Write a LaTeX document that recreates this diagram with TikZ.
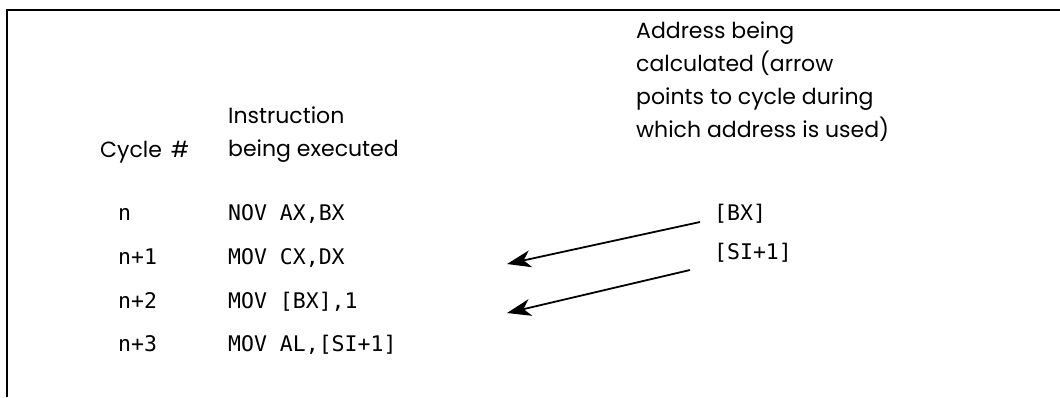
\documentclass[tikz,border=0pt]{standalone}
\usepackage{fontspec}
\setmainfont{Poppins}
\newfontfamily\codefont{DejaVu Sans Mono}
\usetikzlibrary{arrows.meta}
\begin{document}
\begin{tikzpicture}[x=1pt,y=-1pt,
  head/.style={anchor=base west,inner sep=0pt,align=left,
    font=\fontsize{22}{33}\selectfont},
  code/.style={anchor=base west,inner sep=0pt,
    font=\codefont\fontsize{21.5}{26}\selectfont},
  pointer/.style={line width=1.8pt,-{Stealth[length=24pt,width=17pt,inset=7pt]}}]
\useasboundingbox (0,0) rectangle (1060,397);
% frame (open to the right and bottom)
\draw[line width=2pt] (7,397) -- (7,9.5) -- (1060,9.5);

% column headings (anchored at the baseline of their last line)
\node[head] (hcyc) at (100,157) {Cycle\hspace{0.4em}\#};
\node[head] (hins) at (228,156) {Instruction\\being executed};
\node[head] (hadr) at (636,137) {Address being\\calculated (arrow\\points to cycle during\\which address is used)};

% cycle numbers
\node[code] (c0) at (118,220) {n};
\node[code] (c1) at (118,264) {n+1};
\node[code] (c2) at (118,308) {n+2};
\node[code] (c3) at (118,351) {n+3};

% instructions
\node[code] (i0) at (228,220) {NOV AX,BX};
\node[code] (i1) at (228,264) {MOV CX,DX};
\node[code] (i2) at (228,308) {MOV [BX],1};
\node[code] (i3) at (228,351) {MOV AL,[SI+1]};

% addresses
\node[code] (a0) at (714,220) {[BX]};
\node[code] (a1) at (714,259) {[SI+1]};

% arrow ends
\coordinate (s0) at (700,222);
\coordinate (t0) at (507,264);
\coordinate (s1) at (690,270);
\coordinate (t1) at (507,313);
\draw[pointer] (s0) -- (t0);
\draw[pointer] (s1) -- (t1);
\end{tikzpicture}
\end{document}
